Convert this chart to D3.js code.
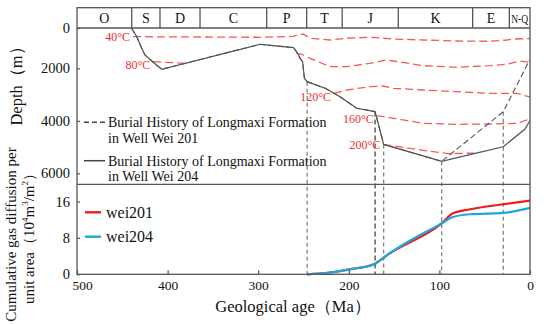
<!DOCTYPE html>
<html><head><meta charset="utf-8">
<script src="https://cdn.jsdelivr.net/npm/d3@7"></script>
<style>
body{margin:0;background:#fff}
svg{display:block}
text{font-family:"Liberation Serif","Times New Roman",serif}
</style>
</head><body>
<svg id="c" width="550" height="324" font-family="Liberation Serif, Times New Roman, serif"></svg>
<script>
// ---------- data ----------
const periods = ["O","S","D","C","P","T","J","K","E","N-Q"];
const periodBounds = [500, 439.6, 408.4, 364.2, 290.6, 246.5, 207.3, 145.4, 63.3, 22.8, 0];

const depthTicks = [0, 2000, 4000, 6000];
const gasTicks = [0, 8, 16];
const ageTicks = [500, 400, 300, 200, 100, 0];

// burial history (age Ma, depth m)
const burialAges204  = [440, 434, 428.6, 425, 415.8, 406.5, 298, 261, 255.7, 254, 251, 249, 246, 226, 209.7, 191.3, 180, 171, 161.5, 97.5, 57, 29.5, 5.5, 0];
const burialDepth204 = [0, 430, 1007, 1340, 1700, 2038, 808, 977, 1305, 1500, 1670, 2380, 2510, 2762, 3082, 3524, 3590, 3650, 4900, 5545, 5215, 4987, 4312, 3990];
const burialAges201  = [440, 434, 428.6, 425, 415.8, 406.5, 298, 261, 255.7, 254, 251, 249, 246, 226, 209.7, 191.3, 180, 171, 161.5, 97.5, 29.5, 0.5];
const burialDepth201 = [0, 430, 1007, 1340, 1700, 2038, 808, 977, 1305, 1500, 1670, 2380, 2510, 2762, 3082, 3524, 3590, 3650, 4900, 5545, 3654, 1590];

// isotherms (age, depth); null = hidden gap
const isoLabels = ["40°C", "80°C", "120°C", "160°C", "200°C"];
const iso40  = [[438.2,430],[364,446],[298,461],[262,420],[250.2,298],[242.8,511],[220.8,595],[202.3,511],[176.6,461],[150.9,546],[118,595],[81,645],[44.2,660],[25.7,595],[16.6,546],[0,521]];
const iso80  = [[415.8,1672],[380.8,1751],null,[257.6,1255],[252.1,1304],[242.8,1503],[220.8,1920],[202.3,1920],[176.6,1751],[158.2,1587],[150.9,1637],[117.8,1870],[80.9,1950],[44.2,1870],[25.7,1800],[11,1637],[0,1700]];
const iso120 = [[216.3,2953],[202.3,2827],[176.6,2701],[161.9,2674],[150.9,2762],[117.8,2827],[80.9,2892],[44.2,2953],[14.7,2953],[0,3093]];
const iso160 = [[169.2,3806],[154.5,3882],[117.8,4096],[80.9,4134],[44.2,4122],[14.7,4096],[3.6,3970],[0,3894]];
const iso200 = [[161.9,4914],[154.5,4933],[117.8,5124],[90.2,5250],[57.4,5227]];

// key events (vertical dashed markers)
const markerAges = [246, 171, 161.5, 97.5, 29.5];
const markerWell = ["204", "204", "204", "204", "201"];

// cumulative gas diffusion per unit area (10^4 m3/m2)
const gasAges   = [246, 221, 199, 172, 166, 160, 97.5, 85, 66, 29.5, 0];
const wei201Gas = [0, 0.4, 1.1, 2.2, 3.0, 3.9, 11.2, 13.4, 14.3, 15.4, 16.2];
const wei204Gas = [0, 0.4, 1.1, 2.2, 3.0, 3.9, 11.2, 12.6, 13.2, 13.5, 14.6];

// ---------- layout ----------
const L = 77, R = 530, bandTop = 7.7, bandBot = 28, sep = 184.3, bot = 274.3;
const frameColor = "#555";
const isoColor = "#f55a5a";
const serif = '"Liberation Serif","Times New Roman",serif';

const svg = d3.select("#c");
const x = d3.scaleLinear().domain([500, 0]).range([L, R]);
const yD = d3.scaleLinear().domain([0, 2000, 6000]).range([28, 68.3, 173.3]);
const yG = d3.scaleLinear().domain([0, 16]).range([bot, 201.5]);

svg.append("defs").append("clipPath").attr("id", "topclip")
  .append("rect").attr("x", L).attr("y", bandBot).attr("width", R - L).attr("height", sep - bandBot);

function interp(ages, vals, a) {
  for (let i = 0; i < ages.length - 1; i++) {
    const a0 = ages[i], a1 = ages[i + 1];
    if ((a <= a0 && a >= a1)) {
      const t = (a0 - a) / (a0 - a1 || 1);
      return vals[i] + t * (vals[i + 1] - vals[i]);
    }
  }
  return vals[vals.length - 1];
}

// ---------- vertical markers ----------
const gm = svg.append("g");
markerAges.forEach((a, i) => {
  const d = markerWell[i] === "201" ? interp(burialAges201, burialDepth201, a) : interp(burialAges204, burialDepth204, a);
  gm.append("line")
    .attr("x1", x(a)).attr("x2", x(a))
    .attr("y1", yD(d)).attr("y2", bot)
    .attr("stroke", i === 1 ? "#333" : "#7a7a7a")
    .attr("stroke-width", 1.2)
    .attr("stroke-dasharray", i === 1 ? "5,3" : "4,3");
});

// ---------- isotherms ----------
const gi = svg.append("g").attr("clip-path", "url(#topclip)");
const isoLine = d3.line().defined(p => p !== null).x(p => x(p[0])).y(p => yD(p[1]));
[iso40, iso80, iso120, iso160, iso200].forEach(iso => {
  gi.append("path").attr("d", isoLine(iso))
    .attr("fill", "none").attr("stroke", isoColor)
    .attr("stroke-width", 1.3).attr("stroke-dasharray", "8,4");
});
[iso40, iso80, iso120, iso160, iso200].forEach((iso, i) => {
  const p = iso[0];
  svg.append("text").attr("x", x(p[0]) - 3).attr("y", yD(p[1]) + (i === 0 ? 4.5 : i === 1 ? 7 : i === 4 ? 4 : 7.5))
    .attr("text-anchor", "end").attr("font-size", 12).attr("fill", "#f03030").text(isoLabels[i]);
});

// ---------- burial curves ----------
const bLine = d3.line().x(d => x(d[0])).y(d => yD(d[1]));
const gb = svg.append("g").attr("clip-path", "url(#topclip)");
gb.append("path").attr("d", bLine(burialAges201.map((a, i) => [a, burialDepth201[i]])))
  .attr("fill", "none").attr("stroke", "#555").attr("stroke-width", 1.1).attr("stroke-dasharray", "6,3");
gb.append("path").attr("d", bLine(burialAges204.map((a, i) => [a, burialDepth204[i]])))
  .attr("fill", "none").attr("stroke", "#555").attr("stroke-width", 1.2);

// ---------- gas curves ----------
const gLine = d3.line().x(d => x(d[0])).y(d => yG(d[1])).curve(d3.curveMonotoneX);
svg.append("path").attr("d", gLine(gasAges.map((a, i) => [a, wei201Gas[i]])))
  .attr("fill", "none").attr("stroke", "#ee1c1c").attr("stroke-width", 2.2);
svg.append("path").attr("d", gLine(gasAges.map((a, i) => [a, wei204Gas[i]])))
  .attr("fill", "none").attr("stroke", "#1ba6e0").attr("stroke-width", 2.2);

// ---------- frame & band ----------
const gf = svg.append("g").attr("stroke", frameColor).attr("stroke-width", 1.3).attr("fill", "none");
gf.append("rect").attr("x", L).attr("y", bandTop).attr("width", R - L).attr("height", bot - bandTop);
gf.append("line").attr("x1", L).attr("x2", R).attr("y1", bandBot).attr("y2", bandBot);
gf.append("line").attr("x1", L).attr("x2", R).attr("y1", sep).attr("y2", sep);
periodBounds.slice(1, -1).forEach(b => {
  gf.append("line").attr("x1", x(b)).attr("x2", x(b)).attr("y1", bandTop).attr("y2", bandBot);
});
periods.forEach((p, i) => {
  const cx = (x(periodBounds[i]) + x(periodBounds[i + 1])) / 2;
  const t = svg.append("text").attr("x", cx).attr("y", 23).attr("text-anchor", "middle")
    .attr("font-size", 14).attr("fill", "#111").text(p);
  if (p === "N-Q") t.attr("font-size", 12.5).attr("textLength", 17).attr("lengthAdjust", "spacingAndGlyphs").attr("x", cx - 8.5).attr("text-anchor", "start");
});

// ---------- axes ----------
function styleAxis(g) {
  g.attr("font-family", serif);
  g.select(".domain").remove();
  g.selectAll(".tick line").attr("stroke", frameColor).attr("stroke-width", 1.2);
  g.selectAll(".tick text").attr("fill", "#111").style("font-family", serif);
}
svg.append("g").attr("transform", `translate(${L},0)`)
  .call(d3.axisLeft(yD).tickValues(depthTicks).tickFormat(d3.format("d")).tickSize(-3).tickPadding(7))
  .call(styleAxis).attr("font-size", 14.5);
svg.append("g").attr("transform", `translate(${L},0)`)
  .call(d3.axisLeft(yG).tickValues(gasTicks).tickSize(-3).tickPadding(7))
  .call(styleAxis).attr("font-size", 14.5);
const xa = svg.append("g").attr("transform", `translate(0,${bot})`)
  .call(d3.axisBottom(x).tickValues(ageTicks).tickSize(-4).tickPadding(6))
  .call(styleAxis).attr("font-size", 13.5);
xa.selectAll(".tick text").filter(d => d === 500).attr("dx", 5);

// ---------- titles ----------
svg.append("text").attr("x", 293).attr("y", 312).attr("text-anchor", "middle")
  .attr("font-size", 16.5).attr("fill", "#111").text("Geological age（Ma）");
svg.append("text").attr("transform", "translate(22,82) rotate(-90)").attr("text-anchor", "middle")
  .attr("font-size", 16.5).attr("fill", "#111").text("Depth（m）");
svg.append("text").attr("transform", "translate(16,234.5) rotate(-90)").attr("text-anchor", "middle")
  .attr("font-size", 15).attr("fill", "#111").text("Cumulative gas diffusion per");
const t2 = svg.append("text").attr("transform", "translate(34,235) rotate(-90)").attr("text-anchor", "middle")
  .attr("font-size", 15).attr("fill", "#111");
t2.append("tspan").text("unit area（10");
t2.append("tspan").attr("font-size", 9).attr("dy", -6).text("4");
t2.append("tspan").attr("dy", 6).text("m");
t2.append("tspan").attr("font-size", 9).attr("dy", -6).text("3");
t2.append("tspan").attr("dy", 6).text("/m");
t2.append("tspan").attr("font-size", 9).attr("dy", -6).text("2");
t2.append("tspan").attr("dy", 6).text("）");

// ---------- legends ----------
const legTop = [
  {dash: "5,3", l1: "Burial History of Longmaxi Formation", l2: "in Well Wei 201", y: 122.3},
  {dash: null, l1: "Burial History of Longmaxi Formation", l2: "in Well Wei 204", y: 160.7}
];
legTop.forEach(d => {
  const ln = svg.append("line").attr("x1", 84).attr("x2", 105).attr("y1", d.y).attr("y2", d.y)
    .attr("stroke", "#444").attr("stroke-width", 1.5);
  if (d.dash) ln.attr("stroke-dasharray", d.dash);
  svg.append("text").attr("x", 108).attr("y", d.y + 5).attr("font-size", 14).attr("fill", "#111").text(d.l1);
  svg.append("text").attr("x", 108).attr("y", d.y + 20.5).attr("font-size", 14).attr("fill", "#111").text(d.l2);
});
const legBot = [
  {c: "#ee1c1c", t: "wei201", y: 212.3},
  {c: "#1ba6e0", t: "wei204", y: 236.7}
];
legBot.forEach(d => {
  svg.append("line").attr("x1", 85).attr("x2", 101).attr("y1", d.y).attr("y2", d.y)
    .attr("stroke", d.c).attr("stroke-width", 2.4);
  svg.append("text").attr("x", 106).attr("y", d.y + 5.5).attr("font-size", 16).attr("fill", "#111").text(d.t);
});
</script>
</body></html>
